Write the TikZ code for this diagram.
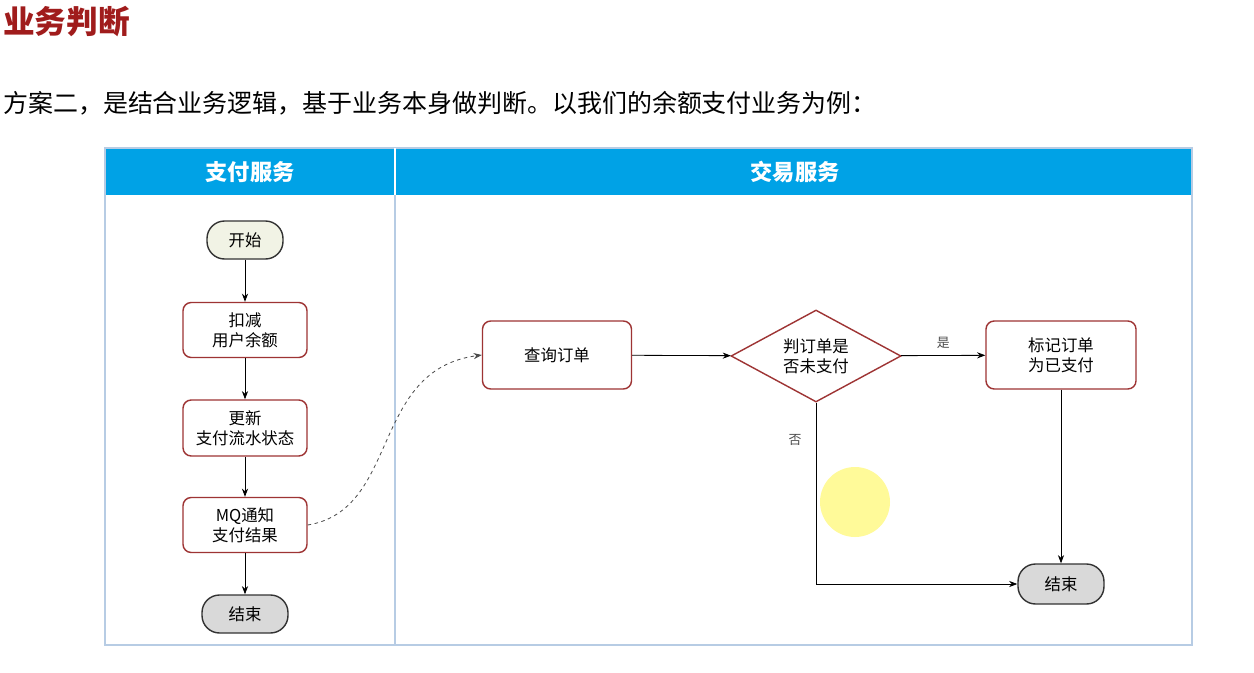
\documentclass[tikz,border=0pt]{standalone}
\usepackage{fontspec}
\setmainfont{Noto Sans CJK SC}
\usetikzlibrary{shapes.geometric,arrows.meta}
\definecolor{hdr}{HTML}{00A2E6}
\definecolor{frm}{HTML}{B7CCE4}
\definecolor{boxr}{HTML}{9E3434}
\definecolor{ttl}{HTML}{A01C1C}
\tikzset{
 px/.style={x=0.03cm,y=-0.03cm},
 proc/.style={draw=boxr,line width=1.2pt,rounded corners=7pt,fill=white,align=center,font=\fontsize{14}{17}\selectfont},
 pill/.style={draw=black!80,line width=1.2pt,rounded corners=15pt,align=center,font=\fontsize{14}{17}\selectfont},
 arr/.style={-{Stealth[length=7pt]},line width=0.7pt},
 lab/.style={font=\fontsize{11}{13}\selectfont,text=black!70}
}
\begin{document}
\begin{tikzpicture}[px]
\useasboundingbox (0,0) rectangle (1254,673);
\fill[white] (0,0) rectangle (1254,673);
\node[anchor=west,text=ttl,inner sep=0pt,font=\fontsize{27}{30}\selectfont\bfseries] (title) at (3,22) {业务判断};
\node[anchor=west,inner sep=0pt,font=\fontsize{21.3}{24}\selectfont] (intro) at (3,103) {方案二，是结合业务逻辑，基于业务本身做判断。以我们的余额支付业务为例：};
\fill[hdr] (105,148) rectangle (1192,195);
\draw[frm,line width=1.2pt] (105,148) rectangle (1192,645);
\draw[frm,line width=1.2pt] (395,148) -- (395,645);
\draw[white,line width=1.2pt] (395,148) -- (395,195);
\node[text=white,font=\fontsize{19}{22}\selectfont\bfseries] (h1) at (250,172) {支付服务};
\node[text=white,font=\fontsize{19}{22}\selectfont\bfseries] (h2) at (795,172) {交易服务};
\fill[yellow!40] (855,502) circle (35);
\node[pill,fill=green!8!olive!10,minimum width=76*0.03cm,minimum height=38*0.03cm] (start) at (245,240) {开始};
\node[proc,minimum width=124*0.03cm,minimum height=55*0.03cm] (b1) at (245,330) {扣减\\用户余额};
\node[proc,minimum width=124*0.03cm,minimum height=56*0.03cm] (b2) at (245,428) {更新\\支付流水状态};
\node[proc,minimum width=124*0.03cm,minimum height=55*0.03cm] (b3) at (245,525) {MQ通知\\支付结果};
\node[pill,fill=black!15,minimum width=86*0.03cm,minimum height=38*0.03cm] (end1) at (245,614) {结束};
\node[proc,minimum width=149*0.03cm,minimum height=68*0.03cm] (q) at (557,355) {查询订单};
\node[diamond,draw=boxr,line width=1.2pt,fill=white,aspect=1.85,inner sep=0pt,minimum width=170*0.03cm,minimum height=92*0.03cm,align=center,font=\fontsize{14}{17}\selectfont] (d) at (816,356) {判订单是\\否未支付};
\node[proc,minimum width=150*0.03cm,minimum height=68*0.03cm] (m) at (1061,355) {标记订单\\为已支付};
\node[pill,fill=black!15,minimum width=86*0.03cm,minimum height=40*0.03cm] (end2) at (1061,584) {结束};
\draw[arr] (start) -- (b1);
\draw[arr] (b1) -- (b2);
\draw[arr] (b2) -- (b3);
\draw[arr] (b3) -- (end1);
\draw[arr,dashed,black!70] (b3.east) .. controls (400,510) and (370,370) .. (q.west);
\draw[arr] (q) -- (d);
\draw[arr] (d) -- node[lab,above,pos=0.5,yshift=2pt]{是} (m);
\draw[arr] (m) -- (end2);
\draw[arr] (d.south) |- (end2.west);
\node[lab] (no) at (795,440) {否};
\end{tikzpicture}
\end{document}
